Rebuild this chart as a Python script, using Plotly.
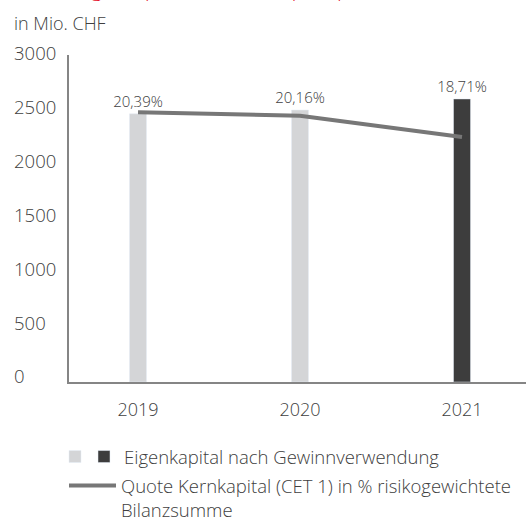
import plotly.graph_objects as go

years = ["2019", "2020", "2021"]
equity = [2490, 2525, 2628]          # Eigenkapital nach Gewinnverwendung, Mio. CHF
cet1 = [20.39, 20.16, 18.71]         # Quote Kernkapital (CET 1), %
cet1_labels = ["20,39%", "20,16%", "18,71%"]
y_ticks = [0, 500, 1000, 1500, 2000, 2500, 3000]
y_ticktext = ["0\u2007\u2007\u2007", "500\u2007", "1000", "1500", "2000", "2500", "3000"]

LIGHT = "#d4d5d7"
DARK = "#3d3d3d"
LINE = "#777777"
TXT = "#404040"
FONT = "Open Sans"
WGT = 300

W, H = 526, 528
ML, MR, MT, MB = 69, 0, 55, 146


def px(xp):
    return (xp - ML) / (W - ML - MR)


def py(yp):
    return (H - MB - yp) / (H - MT - MB)


def f(size, color=TXT):
    return dict(family=FONT, size=size, color=color, weight=WGT)


fig = go.Figure()

fig.add_trace(go.Bar(
    x=years[:2], y=equity[:2], name="", marker_color=LIGHT, width=0.105,
    text=cet1_labels[:2], textposition="outside", textangle=0, constraintext="none",
    cliponaxis=False, textfont=f(15), legend="legend2", hoverinfo="skip"))
fig.add_trace(go.Bar(
    x=years[2:], y=equity[2:], name="Eigenkapital nach Gewinnverwendung",
    marker_color=DARK, width=0.105,
    text=cet1_labels[2:], textposition="outside", textangle=0, constraintext="none",
    cliponaxis=False, textfont=f(15), legend="legend", hoverinfo="skip"))
fig.add_trace(go.Scatter(
    x=years, y=cet1, yaxis="y2", mode="lines",
    name="Quote Kernkapital (CET 1) in % risikogewichtete<br>Bilanzsumme",
    line=dict(color=LINE, width=4), legend="legend3", hoverinfo="skip"))

fig.update_layout(
    width=W, height=H,
    margin=dict(l=ML, r=MR, t=MT, b=MB, pad=0, autoexpand=False),
    paper_bgcolor="white", plot_bgcolor="white",
    barmode="overlay",
    showlegend=True,
    font=f(17),
    xaxis=dict(type="category", range=[-0.426, 2.395],
               showgrid=False, zeroline=False, showline=True, linecolor="#858585",
               linewidth=2, ticks="", tickfont=f(18),
               ticklabelstandoff=10, automargin=False),
    yaxis=dict(range=[0, 3036], showgrid=False, zeroline=False, showline=True,
               linecolor="#858585", linewidth=2, ticks="",
               tickvals=y_ticks, ticktext=y_ticktext, tickfont=f(18.5),
               ticklabelshift=-5, ticklabelstandoff=7, automargin=False),
    yaxis2=dict(range=[2.04, 24.29], overlaying="y", side="right", visible=False,
                automargin=False),
    legend=dict(xref="container", yref="container", x=84 / W, y=1 - 457 / H,
                xanchor="left", yanchor="middle", bgcolor="rgba(0,0,0,0)",
                font=f(18.5), borderwidth=0, visible=True),
    legend2=dict(xref="container", yref="container", x=55 / W, y=1 - 457 / H,
                 xanchor="left", yanchor="middle", bgcolor="rgba(0,0,0,0)",
                 font=f(18.5), borderwidth=0),
    legend3=dict(xref="container", yref="container", x=64 / W, y=1 - 467 / H,
                 xanchor="left", yanchor="top", bgcolor="rgba(0,0,0,0)",
                 font=f(18.5), borderwidth=0, itemwidth=47, valign="top"),
    annotations=[
        dict(text="in Mio. CHF", xref="paper", yref="paper",
             x=px(12), y=py(23), xanchor="left", yanchor="middle",
             showarrow=False, font=f(18)),
        dict(text="Eigenkapital und Kernkapitalquote", xref="paper", yref="paper",
             x=px(74), y=py(4), xanchor="left", yanchor="bottom",
             showarrow=False, font=f(20, "#e3051b")),
    ],
)

fig.write_html("out.html", config={"displayModeBar": False},
               post_script="document.body.style.margin='0';")
